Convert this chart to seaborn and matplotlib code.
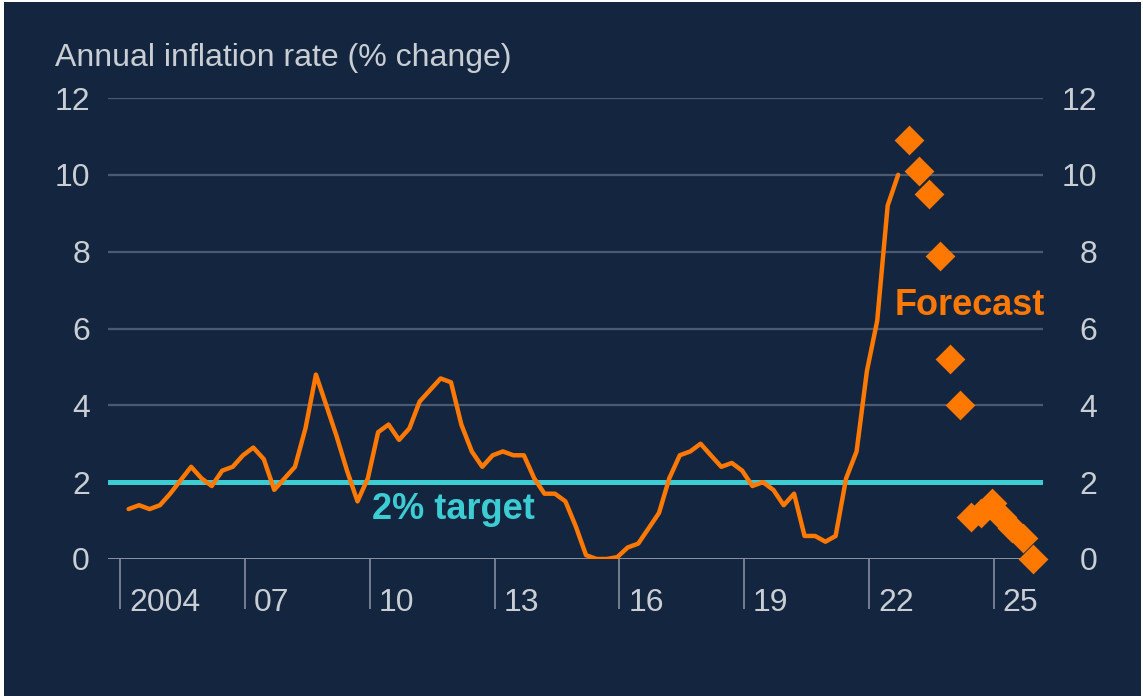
import matplotlib
matplotlib.use("Agg")
import matplotlib.pyplot as plt
from matplotlib.patches import Rectangle
from matplotlib.transforms import ScaledTranslation
import pandas as pd
import seaborn as sns

# CPI annual inflation, quarterly, 2004 Q1 - 2022 Q3
cpi = [1.3, 1.4, 1.3, 1.4, 1.7, 2.05, 2.4, 2.1,
       1.9, 2.3, 2.4, 2.7, 2.9, 2.6, 1.8, 2.1,
       2.4, 3.4, 4.8, 4.0, 3.2, 2.3, 1.5, 2.1,
       3.3, 3.5, 3.1, 3.4, 4.1, 4.4, 4.7, 4.6,
       3.5, 2.8, 2.4, 2.7, 2.8, 2.7, 2.7, 2.1,
       1.7, 1.7, 1.5, 0.85, 0.1, 0.0, 0.0, 0.05,
       0.3, 0.4, 0.8, 1.2, 2.1, 2.7, 2.8, 3.0,
       2.7, 2.4, 2.5, 2.3, 1.9, 2.0, 1.8, 1.4,
       1.7, 0.6, 0.6, 0.45, 0.6, 2.1, 2.8, 4.9,
       6.2, 9.2, 10.0]
# forecast, 2022 Q4 - 2025 Q4
forecast = [10.9, 10.1, 9.5, 7.9, 5.2, 4.0, 1.1, 1.2, 1.45, 1.1, 0.8, 0.55, 0.0]

target = 2
y_ticks = [0, 2, 4, 6, 8, 10, 12]
x_tick_years = [2004, 2007, 2010, 2013, 2016, 2019, 2022, 2025]
x_tick_labels = ["2004", "07", "10", "13", "16", "19", "22", "25"]

# quarterly points sit in the last month of each quarter
def quarter_dates(start, end):
    q = pd.period_range(start, end, freq="Q")
    return q.to_timestamp(how="start") + pd.DateOffset(months=2, days=14)

hist = pd.DataFrame({"date": quarter_dates("2004Q1", "2022Q3"), "rate": cpi})
fc = pd.DataFrame({"date": quarter_dates("2022Q4", "2025Q4"), "rate": forecast})

navy = "#14263f"
orange = "#ff7800"
cyan = "#3cccd4"
text_grey = "#c9cdd4"
grid_grey = "#4b5a72"

sns.set_style("dark")
plt.rcParams["font.family"] = ["Liberation Sans", "DejaVu Sans"]

fig = plt.figure(figsize=(11.43, 6.96), dpi=100, facecolor="white")
fig.patches.append(Rectangle((4 / 1143, 0), 1137 / 1143, 694 / 696,
                             transform=fig.transFigure, facecolor=navy,
                             edgecolor="none", zorder=-10))
ax = fig.add_axes([108 / 1143, 137 / 696, 935 / 1143, 461 / 696])
ax.set_facecolor(navy)
ax.patch.set_alpha(0)

# grid lines
for v in y_ticks[2:]:
    ax.axhline(v, color=grid_grey, lw=1.6, zorder=1)
ax.axhline(0, color="#aeb4be", lw=1.8, zorder=1)
ax.axhline(target, color=cyan, lw=3.6, zorder=2)

sns.lineplot(data=hist, x="date", y="rate", color=orange, lw=3.2, ax=ax,
             zorder=3)
sns.scatterplot(data=fc, x="date", y="rate", color=orange, marker="D",
                s=230, linewidth=0, ax=ax, zorder=4)
for c in ax.collections:
    c.set_clip_on(False)

ax.set_ylim(0, 12)
ax.set_xlim(pd.Timestamp("2003-09-16"), pd.Timestamp("2026-03-10"))
ax.set_xlabel("")
ax.set_ylabel("")
for s in ax.spines.values():
    s.set_visible(False)
ax.grid(False)

# y axis, both sides
ax.set_yticks(y_ticks)
ax.tick_params(axis="y", length=0, pad=13, labelsize=23, labelcolor=text_grey)
ax2 = ax.twinx()
ax2.set_ylim(0, 12)
ax2.set_yticks(y_ticks)
ax2.tick_params(axis="y", length=0, pad=39, labelsize=23, labelcolor=text_grey)
for lab in ax2.get_yticklabels():
    lab.set_horizontalalignment("right")
for s in ax2.spines.values():
    s.set_visible(False)
ax2.grid(False)

# x axis: long ticks with labels to their right
ax.set_xticks([pd.Timestamp(f"{y}-01-01") for y in x_tick_years])
ax.set_xticklabels(x_tick_labels)
ax.tick_params(axis="x", bottom=True, length=36, width=1.1, color="#8d96a6",
               pad=-15, labelsize=23, labelcolor=text_grey)
shift = ScaledTranslation(0.09, 0, fig.dpi_scale_trans)
for lab in ax.get_xticklabels():
    lab.set_horizontalalignment("left")
    lab.set_transform(lab.get_transform() + shift)

fig.text(55 / 1143, (696 - 66) / 696, "Annual inflation rate (% change)",
         color=text_grey, fontsize=23, va="baseline", ha="left")
ax.text(pd.Timestamp("2010-01-20"), 1.28, "2% target", color=cyan,
        fontsize=26, fontweight="bold", va="center", ha="left")
ax.text(pd.Timestamp("2022-08-15"), 6.6, "Forecast", color=orange,
        fontsize=26, fontweight="bold", va="center", ha="left")

fig.savefig("out.png", dpi=100, facecolor=fig.get_facecolor())
